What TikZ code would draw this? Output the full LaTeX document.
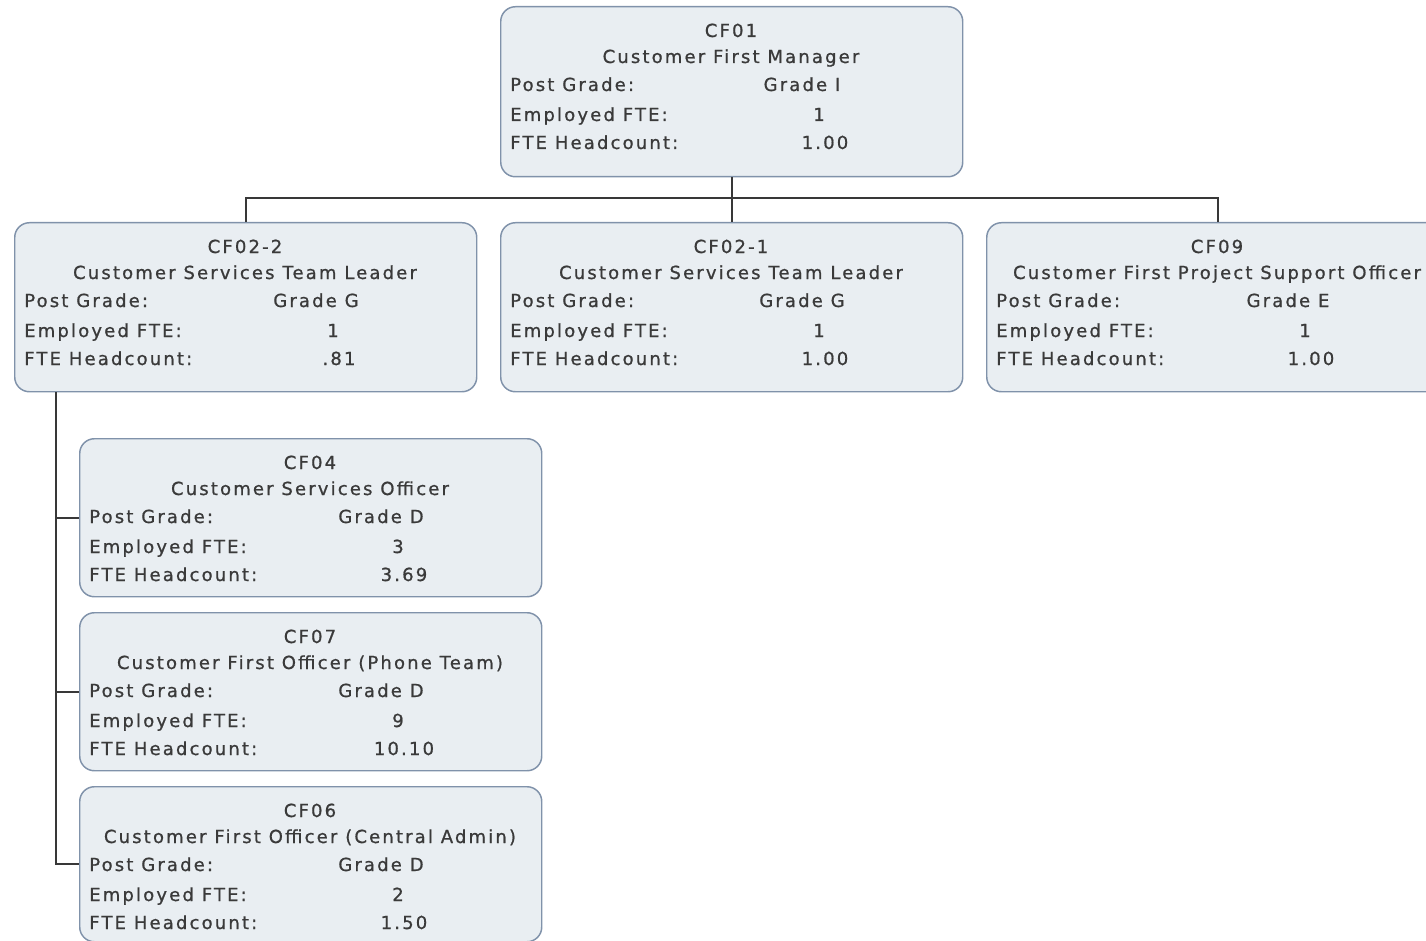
\documentclass[tikz,border=0pt]{standalone}
\usepackage{fontspec}
\setmainfont{DejaVu Sans}[LetterSpace=12, FakeBold=0.9]
\definecolor{boxfill}{HTML}{E9EEF2}
\definecolor{boxline}{HTML}{8092AA}
\definecolor{txtcol}{HTML}{3A3A3A}
\definecolor{conncol}{HTML}{383838}
\tikzset{
  orgbox/.style={draw=boxline, fill=boxfill, line width=1.1pt, rounded corners=11pt,
    minimum width=346.5pt, inner sep=0pt},
  txt/.style={inner sep=0pt, text=txtcol, font=\fontsize{13.5pt}{15pt}\selectfont},
  conn/.style={draw=conncol, line width=1.5pt}
}
\newcommand\orgbox[9]{%
  \node[orgbox, minimum height=#4*0.75pt, anchor=north west] (#1) at (#2,#3) {};
  \node[txt, anchor=base] (#1-code) at ({#2+231},{#3+31}) {#5};
  \node[txt, anchor=base] (#1-name) at ({#2+231},{#3+57}) {#6};
  \node[txt, anchor=base west] (#1-l1) at ({#2+10},{#3+85}) {Post Grade:};
  \node[txt, anchor=base] (#1-v1) at ({#2+302},{#3+85}) {#7};
  \node[txt, anchor=base west] (#1-l2) at ({#2+10},{#3+115}) {Employed FTE:};
  \node[txt, anchor=base] (#1-v2) at ({#2+319},{#3+115}) {#8};
  \node[txt, anchor=base west] (#1-l3) at ({#2+10},{#3+143}) {FTE Headcount:};
  \node[txt, anchor=base] (#1-v3) at ({#2+325},{#3+143}) {#9};
}
\begin{document}
\begin{tikzpicture}[x=0.75pt, y=-0.75pt]
\useasboundingbox (0,0) rectangle (1426,941);
\clip (0,0) rectangle (1426,941);
\orgbox{cf01}{500}{6}{170}{CF01}{Customer First Manager}{Grade I}{1}{1.00}
\orgbox{cf022}{14}{222}{169}{CF02-2}{Customer Services Team Leader}{Grade G}{1}{.81}
\orgbox{cf021}{500}{222}{169}{CF02-1}{Customer Services Team Leader}{Grade G}{1}{1.00}
\orgbox{cf09}{986}{222}{169}{CF09}{Customer First Project Support Officer}{Grade E}{1}{1.00}
\orgbox{cf04}{79}{438}{158}{CF04}{Customer Services Officer}{Grade D}{3}{3.69}
\orgbox{cf07}{79}{612}{158}{CF07}{Customer First Officer (Phone Team)}{Grade D}{9}{10.10}
\orgbox{cf06}{79}{786}{155}{CF06}{Customer First Officer (Central Admin)}{Grade D}{2}{1.50}
\draw[conn] (cf01.south) -- (cf021.north);
\draw[conn] (cf022.north) -- ++(0,-24) -| (cf09.north);
\coordinate (trunk) at ([xshift=31.5pt]cf022.south west);
\draw[conn] (trunk) |- (cf06.west);
\draw[conn] (trunk |- cf04.west) -- (cf04.west);
\draw[conn] (trunk |- cf07.west) -- (cf07.west);
\end{tikzpicture}
\end{document}
